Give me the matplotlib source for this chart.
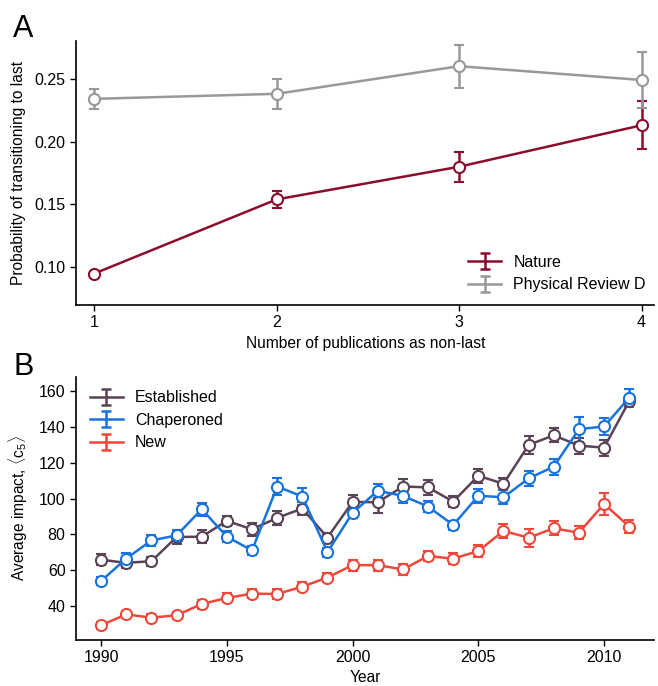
import matplotlib
matplotlib.use("Agg")
import matplotlib.pyplot as plt
import numpy as np

plt.rcParams['font.family'] = ['Liberation Sans', 'DejaVu Sans']
plt.rcParams['mathtext.fontset'] = 'custom'
plt.rcParams['mathtext.rm'] = 'Liberation Sans'
plt.rcParams['mathtext.it'] = 'Liberation Sans:italic'

# panel A data
pubs = [1, 2, 3, 4]
nature = [0.095, 0.154, 0.180, 0.213]
nature_err = [0.001, 0.007, 0.012, 0.019]
prd = [0.234, 0.238, 0.260, 0.249]
prd_err = [0.008, 0.012, 0.017, 0.022]

# panel B data
years = list(range(1990, 2012))
established = [65.8, 64.1, 65.0, 78.5, 78.7, 87.5, 82.8, 89.2, 94.4, 78.2,
               98.1, 97.9, 106.7, 106.2, 98.3, 112.7, 108.2, 129.9, 135.3, 129.5,
               128.4, 154.4]
established_err = [3, 3, 2.5, 4, 3.5, 3, 3.5, 4, 3.5, 2.5,
                   4, 6, 4, 4, 3, 4, 3.5, 5, 4, 4.5,
                   4.5, 3]
chaperoned = [54.0, 66.5, 76.6, 79.4, 94.0, 78.7, 71.0, 106.7, 101.1, 70.1,
              92.0, 104.3, 101.5, 95.5, 85.2, 101.5, 100.7, 111.2, 117.8, 138.7,
              140.2, 156.3]
chaperoned_err = [2, 3, 3, 3, 3.5, 3, 2.5, 4.5, 4.5, 2.5,
                  3, 4, 4, 3, 2.5, 4, 4, 4, 4.5, 7,
                  5, 5]
new = [29.3, 35.3, 33.5, 34.8, 41.1, 44.5, 46.9, 46.7, 50.8, 55.9,
       62.8, 62.8, 60.4, 67.9, 66.4, 70.7, 81.9, 78.1, 83.4, 80.9,
       97.0, 84.3]
new_err = [2, 2, 2, 2, 2.5, 2.5, 2.5, 3, 2.5, 2.5,
           3, 3, 3, 3, 3, 3.5, 4, 5, 4, 3.5,
           6, 3.5]

NATURE_C = '#8c0c2c'
PRD_C = '#999999'
EST_C = '#5a4257'
CHAP_C = '#1673e0'
NEW_C = '#f0473a'

LW = 1.8


def style_axes(ax):
    ax.spines['top'].set_visible(False)
    ax.spines['right'].set_visible(False)
    ax.spines['left'].set_linewidth(1.2)
    ax.spines['bottom'].set_linewidth(1.2)
    ax.tick_params(direction='out', length=4, width=1.0, labelsize=11.5)


def draw(ax, x, y, err, color, label):
    ax.errorbar(x, y, yerr=err, color=color, lw=LW, elinewidth=LW,
                capsize=3.5, capthick=LW, marker='o', markersize=8,
                markerfacecolor='white', markeredgecolor=color,
                markeredgewidth=1.5)
    # legend proxy: line + error bar, no marker
    ax.errorbar([np.nan], [np.nan], yerr=[1], color=color, lw=LW,
                elinewidth=LW, capsize=3.5, capthick=LW, label=label)


def add_legend(ax, **kw):
    ax.legend(frameon=False, fontsize=11.5, handlelength=2.1,
              handletextpad=0.75, labelspacing=0.47, borderaxespad=0.2, **kw)


fig = plt.figure(figsize=(6.58, 6.86), dpi=100)

axA = fig.add_axes([0.1155, 0.5554, 0.879, 0.3848])
draw(axA, pubs, nature, nature_err, NATURE_C, 'Nature')
draw(axA, pubs, prd, prd_err, PRD_C, 'Physical Review D')
axA.set_xlim(0.90, 4.07)
axA.set_ylim(0.07, 0.28)
axA.set_xticks(pubs)
axA.set_yticks([0.10, 0.15, 0.20, 0.25])
axA.set_yticklabels(['0.10', '0.15', '0.20', '0.25'])
axA.set_xlabel('Number of publications as non-last', fontsize=11.2, labelpad=4)
axA.set_ylabel('Probability of transitioning to last', fontsize=11.2, labelpad=6)
style_axes(axA)
add_legend(axA, loc='lower right', bbox_to_anchor=(1.002, 0.012))

axB = fig.add_axes([0.1155, 0.067, 0.879, 0.3839])
draw(axB, years, established, established_err, EST_C, 'Established')
draw(axB, years, chaperoned, chaperoned_err, CHAP_C, 'Chaperoned')
draw(axB, years, new, new_err, NEW_C, 'New')
axB.set_xlim(1989, 2012)
axB.set_ylim(21, 168)
axB.set_xticks([1990, 1995, 2000, 2005, 2010])
axB.set_yticks([40, 60, 80, 100, 120, 140, 160])
axB.set_xlabel('Year', fontsize=11.2, labelpad=3)
axB.set_ylabel(r'Average impact, $\langle \mathrm{c}_5 \rangle$', fontsize=11.2, labelpad=6)
style_axes(axB)
add_legend(axB, loc='upper left', bbox_to_anchor=(0.007, 0.985))

fig.text(0.02, 1 - 37 / 686, 'A', fontsize=22, va='baseline')
fig.text(0.02, 1 - 375 / 686, 'B', fontsize=22, va='baseline')

fig.savefig('out.png', dpi=100)
